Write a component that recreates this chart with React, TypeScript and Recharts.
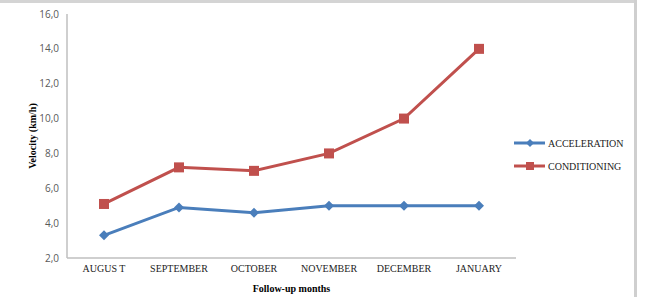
import React from 'react';
import { LineChart, Line, XAxis, YAxis, Label } from 'recharts';

const months = ['AUGUS T', 'SEPTEMBER', 'OCTOBER', 'NOVEMBER', 'DECEMBER', 'JANUARY'];
const acceleration = [3.3, 4.9, 4.6, 5.0, 5.0, 5.0];
const conditioning = [5.1, 7.2, 7.0, 8.0, 10.0, 14.0];
const yTicks = [2, 4, 6, 8, 10, 12, 14, 16];
const seriesNames = ['ACCELERATION', 'CONDITIONING'];
const seriesColors = ['#4A7EBB', '#C0504D'];

const data = months.map((m, i) => ({
  month: m,
  ACCELERATION: acceleration[i],
  CONDITIONING: conditioning[i],
}));

const serif = '"Liberation Serif", "Times New Roman", serif';
const sans = '"Open Sans", "Liberation Sans", sans-serif';

const Diamond = (props: any) => {
  const { cx, cy, key } = props;
  if (cx == null || cy == null) return null;
  const r = 5;
  return (
    <polygon
      key={key}
      points={`${cx},${cy - r} ${cx + r},${cy} ${cx},${cy + r} ${cx - r},${cy}`}
      fill={seriesColors[0]}
    />
  );
};

const Square = (props: any) => {
  const { cx, cy, key } = props;
  if (cx == null || cy == null) return null;
  const s = 10;
  return <rect key={key} x={cx - s / 2} y={cy - s / 2} width={s} height={s} fill={seriesColors[1]} />;
};

const YLabel = (props: any) => {
  const vb = props.viewBox || {};
  const cx = 32;
  const cy = (vb.y ?? 14) + (vb.height ?? 244) / 2;
  return (
    <text
      x={cx}
      y={cy}
      transform={`rotate(-90, ${cx}, ${cy})`}
      textAnchor="middle"
      dominantBaseline="central"
      fontFamily={serif}
      fontWeight="bold"
      fontSize={10}
      fill="#000"
    >
      Velocity  (km/h)
    </text>
  );
};

export default function App() {
  return (
    <div style={{ position: 'absolute', left: 0, top: 0, width: 651, height: 297, background: '#fff', overflow: 'hidden' }}>
      <LineChart
        width={651}
        height={297}
        data={data}
        margin={{ top: 14, right: 135, bottom: 0, left: 0 }}
      >
        <XAxis
          dataKey="month"
          axisLine={{ stroke: '#BFBFBF', strokeWidth: 1.5 }}
          tickLine={false}
          tickMargin={1}
          height={39}
          interval={0}
          padding={{ left: 37, right: 37 }}
          tick={{ fontFamily: serif, fontSize: 10, fill: '#222' }}
        >
          <Label
            value="Follow-up months"
            position="insideBottom"
            offset={5}
            style={{ fontFamily: serif, fontWeight: 'bold', fontSize: 10, fill: '#000' }}
          />
        </XAxis>
        <YAxis
          width={67}
          domain={[2, 16]}
          ticks={yTicks}
          interval={0}
          axisLine={{ stroke: '#BFBFBF', strokeWidth: 1.5 }}
          tickLine={false}
          tickFormatter={(v: number) => v.toFixed(1).replace('.', ',')}
          tick={{ fontFamily: sans, fontSize: 10, fill: '#595959' }}
        >
          <Label content={YLabel} />
        </YAxis>
        <Line
          type="linear"
          dataKey="ACCELERATION"
          stroke={seriesColors[0]}
          strokeWidth={3}
          dot={Diamond}
          activeDot={false}
          isAnimationActive={false}
        />
        <Line
          type="linear"
          dataKey="CONDITIONING"
          stroke={seriesColors[1]}
          strokeWidth={3}
          dot={Square}
          activeDot={false}
          isAnimationActive={false}
        />
      </LineChart>
      <svg style={{ position: 'absolute', left: 0, top: 0 }} width={651} height={297} pointerEvents="none">
        <rect x={0} y={0} width={637} height={3} fill="#d4d4d4" />
        <rect x={634} y={0} width={3} height={297} fill="#cfcfcf" />
        {seriesNames.map((name, i) => {
          const y = 143 + i * 23;
          return (
            <g key={name}>
              <line x1={514} x2={545} y1={y} y2={y} stroke={seriesColors[i]} strokeWidth={3} />
              {i === 0 ? (
                <polygon points={`530,${y - 4} 534,${y} 530,${y + 4} 526,${y}`} fill={seriesColors[0]} />
              ) : (
                <rect x={526} y={y - 4} width={8} height={8} fill={seriesColors[1]} />
              )}
              <text x={548} y={y} dominantBaseline="central" fontFamily={serif} fontSize={10} fill="#222">
                {name}
              </text>
            </g>
          );
        })}
      </svg>
    </div>
  );
}
